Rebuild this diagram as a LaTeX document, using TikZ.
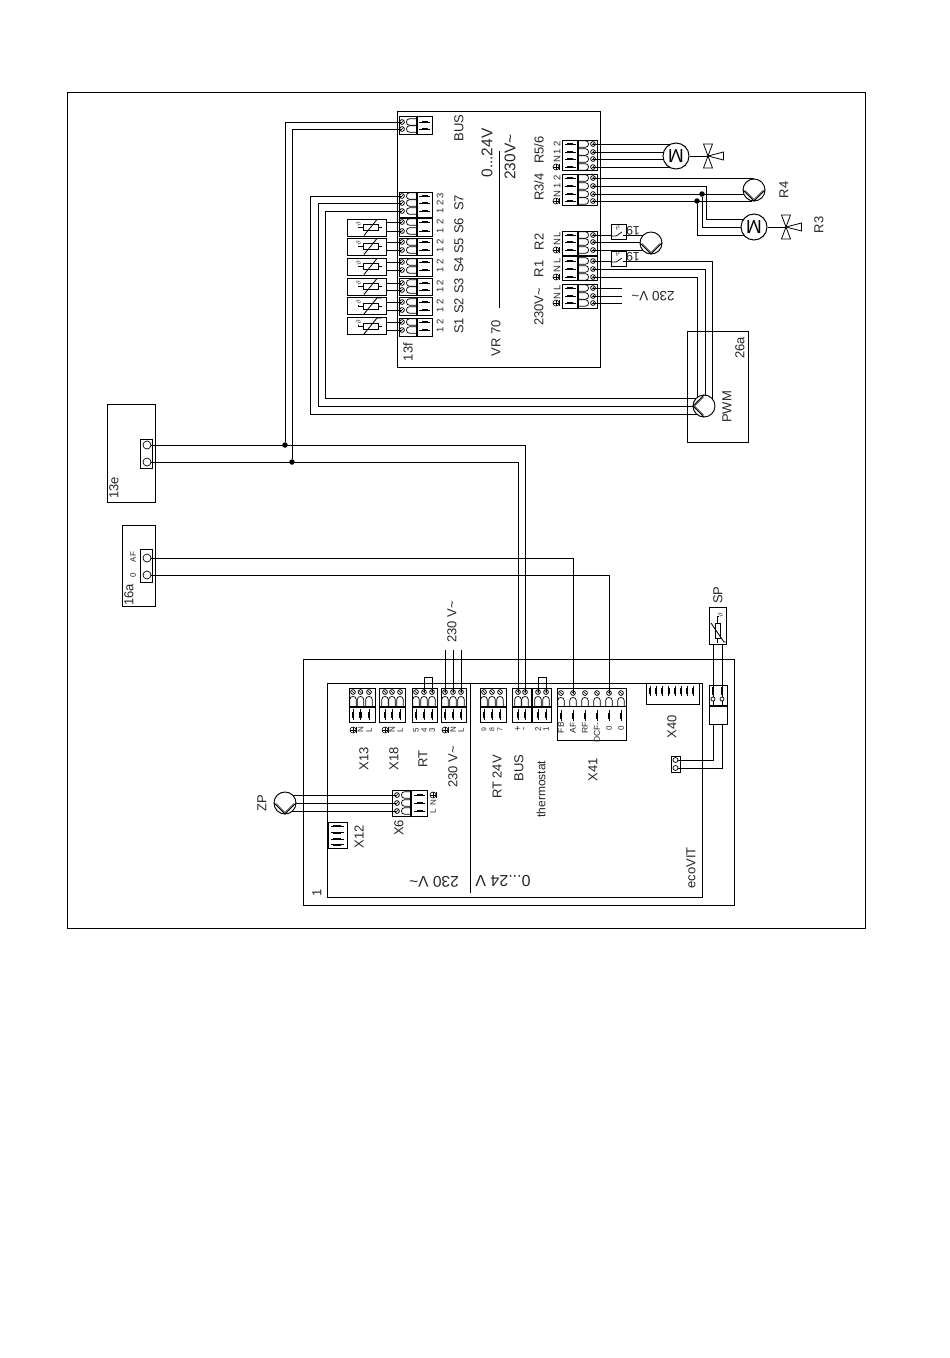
\documentclass[tikz,border=0pt]{standalone}
\usepackage{fontspec}
\setmainfont{Liberation Sans}
\definecolor{tc}{gray}{0.15}
\tikzset{
  wire/.style={line width=0.8pt,black},
  box/.style={draw=black,line width=0.95pt},
  lb/.style={rotate=90,inner sep=0,text=tc},
  lbf/.style={rotate=180,inner sep=0,text=tc},
  f16/.style={lb,font=\fontsize{15.5}{15.5}\selectfont},
  f13/.style={lb,font=\fontsize{13}{13}\selectfont},
  f12/.style={lb,font=\fontsize{12}{12}\selectfont},
  f9/.style={lb,font=\fontsize{9.5}{9.5}\selectfont},
  f8/.style={lb,font=\fontsize{8}{8}\selectfont},
  f7/.style={lb,font=\fontsize{7}{7}\selectfont},
  dotj/.style={circle,fill=black,inner sep=0,minimum size=5.5pt},
  motor/.style={circle,draw=black,line width=1pt,fill=white,inner sep=0,minimum size=26pt,rotate=180,font=\fontsize{19}{19}\selectfont},
  pumpc/.style={circle,draw=black,line width=0.95pt,fill=white,inner sep=0,minimum size=22pt},
  scr/.style={circle,draw=black,line width=0.7pt,inner sep=0,minimum size=8pt},
}
\newcount\lc
\newcommand\lab[4]{\global\advance\lc by 1 \node[#1] (t\the\lc) at (#2,#3) {#4};}
\newcommand\tunit[4]{%
  \coordinate (#1) at (#2,#3);
  \begin{scope}[shift={(#2,#3)},rotate=#4]
    \draw[line width=0.75pt] (0,0) circle (2.4pt);
    \draw[line width=0.6pt] (-1.5,1.5) -- (1.5,-1.5);
    \draw[line width=0.7pt] (14,-3.3) -- (7.5,-3.3) .. controls (3.5,-3.3) and (3.5,3.3) .. (7.5,3.3) -- (14,3.3);
    \draw[line width=0.5pt] (17,0) -- (28,0);
    \draw[line width=2.4pt] (20,0) -- (26,0);
  \end{scope}}
\newcommand\hblock[2]{%
  \draw[box] (399,#1) rectangle (416,#2);
  \draw[box] (417,#1) rectangle (432,#2);}
\newcommand\rblock[2]{%
  \draw[box] (578,#1) rectangle (597,#2);
  \draw[box] (562,#1) rectangle (577,#2);}
\newcommand\bblock[2]{%
  \draw[box] (#1,688) rectangle (#2,706);
  \draw[box] (#1,707) rectangle (#2,722);}
\newcommand\sensor[2]{%
  \node[box,rectangle,minimum width=39pt,minimum height=17pt,inner sep=0] (#1) at (366.5,#2) {};
  \begin{scope}[shift={(366.5,#2)}]
    \draw[line width=0.7pt] (-3.5,-3) rectangle (11.5,3);
    \draw[line width=0.6pt] (-3.5,0) -- (-8,0) -- (-8,-1);
    \draw[line width=0.6pt] (11.5,0) -- (15,0);
    \draw[line width=0.85pt] (-2.5,8) -- (10.5,-8) -- (15,-8);
  \end{scope}
  \lab{lb,font=\fontsize{7}{7}\selectfont}{358.5}{#2-3.5}{$\vartheta$}}
\newcommand\pump[4]{%
  \node[pumpc] (#1) at (#2,#3) {};
  \begin{scope}[shift={(#2,#3)},rotate=#4]
    \draw[line width=0.8pt] (-11,0) -- (0,11) -- (11,0);
    \draw[line width=0.55pt] (-9,0.5) -- (0,9.5) -- (9,0.5);
  \end{scope}}
\newcommand\valve[3]{%
  \coordinate (#1) at (#2,#3);
  \begin{scope}[shift={(#2,#3)}]
    \draw[line width=0.8pt] (-4.5,-12) -- (4.5,-12) -- (-4.5,12) -- (4.5,12) -- cycle;
    \draw[line width=0.8pt] (0,0) -- (15.5,-4) -- (15.5,4) -- cycle;
  \end{scope}}
\newcommand\gnd[2]{%
  \draw[line width=0.6pt] (#1,#2) circle (3pt);
  \draw[line width=0.6pt] (#1-3,#2) -- (#1+3,#2);
  \draw[line width=0.6pt] (#1,#2-3) -- (#1,#2+3);
  \draw[line width=0.8pt] (#1+3,#2-3) -- (#1+3,#2+3);}
\begin{document}
\begin{tikzpicture}[x=1pt,y=-1pt]
\useasboundingbox (0,0) rectangle (950,1358);
\fill[white] (0,0) rectangle (950,1358);
% frames
\draw[box] (67,92) rectangle (865,928);
\draw[box] (397,111) rectangle (600,367);
\draw[box] (687,331) rectangle (748,442);
\draw[box] (107,404) rectangle (155,502);
\draw[box] (122,525) rectangle (155,606);
\draw[box] (303,659) rectangle (734,905);
\draw[box] (327,683) rectangle (702,897);
\draw[box] (470,683) -- (470,893);
\draw[box] (499,151) -- (499,308);
% VR70 left terminals
\hblock{116}{134}
\hblock{192}{217}
\hblock{218}{236}
\hblock{238}{255}
\hblock{258}{276}
\hblock{278}{295}
\hblock{297}{315}
\hblock{318}{336}
\tunit{vba}{402}{122}{0}\tunit{vbb}{402}{129}{0}
\tunit{sgA}{402}{196}{0}\tunit{sgB}{402}{203}{0}\tunit{sgC}{402}{211}{0}
\tunit{sfA}{402}{222}{0}\tunit{sfB}{402}{231}{0}
\tunit{seA}{402}{242}{0}\tunit{seB}{402}{250}{0}
\tunit{sdA}{402}{262}{0}\tunit{sdB}{402}{270}{0}
\tunit{scA}{402}{283}{0}\tunit{scB}{402}{290}{0}
\tunit{sbA}{402}{302}{0}\tunit{sbB}{402}{310}{0}
\tunit{saA}{402}{322}{0}\tunit{saB}{402}{330}{0}
% VR70 right terminals
\rblock{140}{170}
\rblock{174}{205}
\rblock{231}{255}
\rblock{256}{280}
\rblock{284}{308}
\tunit{rfa}{593}{144}{180}\tunit{rfb}{593}{152}{180}\tunit{rfc}{593}{159}{180}\tunit{rfd}{593}{167}{180}
\tunit{rta}{593}{178}{180}\tunit{rtb}{593}{186}{180}\tunit{rtc}{593}{194}{180}\tunit{rtd}{593}{201}{180}
\tunit{rba}{593}{235}{180}\tunit{rbb}{593}{242}{180}\tunit{rbc}{593}{250}{180}
\tunit{raa}{593}{261}{180}\tunit{rab}{593}{269}{180}\tunit{rac}{593}{277}{180}
\tunit{rma}{593}{288}{180}\tunit{rmb}{593}{296}{180}\tunit{rmc}{593}{303}{180}
% ecoVIT bottom terminals
\bblock{349}{375}\bblock{379}{405}\bblock{412}{437}\bblock{441}{466}
\bblock{480}{506}\bblock{512}{531}\bblock{532}{551}
\tunit{xma}{353}{692}{-90}\tunit{xmb}{360.5}{692}{-90}\tunit{xmc}{369}{692}{-90}
\tunit{xna}{385}{692}{-90}\tunit{xnb}{392}{692}{-90}\tunit{xnc}{400}{692}{-90}
\tunit{rte}{416}{692}{-90}\tunit{rtf}{424}{692}{-90}\tunit{rtg}{432}{692}{-90}
\tunit{nea}{445}{692}{-90}\tunit{neb}{453}{692}{-90}\tunit{nec}{461}{692}{-90}
\tunit{lva}{484}{692}{-90}\tunit{lvb}{492}{692}{-90}\tunit{lvc}{500}{692}{-90}
\tunit{bua}{518}{692}{-90}\tunit{bub}{525}{692}{-90}
\tunit{tha}{538}{692}{-90}\tunit{thb}{546}{692}{-90}
% X41
\draw[box] (557,688) rectangle (626,740);
\draw[box] (557,706) -- (626,706);
\tunit{xfa}{561}{693}{-90}\tunit{xfb}{573}{693}{-90}\tunit{xfc}{585}{693}{-90}
\tunit{xfd}{597}{693}{-90}\tunit{xfe}{609}{693}{-90}\tunit{xff}{621}{693}{-90}
% X40
\draw[box] (646,683) rectangle (699,704);
\foreach \x in {650,656.2,662.4,668.6,674.8,681,687.2,693.4}{
  \draw[line width=0.5pt] (\x,686) -- (\x,696);
  \draw[line width=2pt] (\x,688) -- (\x,694);}
% X12
\draw[box] (328,822) rectangle (347,848);
\foreach \y in {826,832.5,839,844.5}{
  \draw[line width=0.5pt] (331,\y) -- (344,\y);
  \draw[line width=2pt] (333,\y) -- (341,\y);}
% X6
\draw[box] (392,790) rectangle (410,816);
\draw[box] (411,790) rectangle (427,816);
\tunit{xsa}{397}{795}{0}\tunit{xsb}{397}{803}{0}\tunit{xsc}{397}{811}{0}
% jumpers
\draw[line width=0.8pt] (rtf) -- ++(0,-15) -| (rtg);
\draw[line width=0.8pt] (tha) -- ++(0,-15) -| (thb);
% external terminals
\draw[box] (140,439) rectangle (152,468);
\node[scr] (ea) at (147,445) {};
\node[scr] (eb) at (147,462) {};
\draw[box] (140,549) rectangle (152,582);
\node[scr] (fa) at (147,558) {};
\node[scr] (fb) at (147,575) {};
% junctions
\node[dotj] (ja) at (285,445) {};
\node[dotj] (jb) at (292,462) {};
\node[dotj] (jc) at (702,194) {};
\node[dotj] (jd) at (697,201) {};
% named corners
\coordinate (cga) at (310,414);
\coordinate (cgb) at (318,406);
\coordinate (cgc) at (325,398);
\coordinate (pga) at (712,400);
\coordinate (pgb) at (705,400);
\coordinate (pgc) at (697,400);
\coordinate (cma) at (706,219);
\coordinate (cmd) at (754,235);
\coordinate (tna) at (445,650);
\coordinate (tnb) at (453,650);
\coordinate (tnc) at (461,650);
\coordinate (ema) at (622,288);
\coordinate (emb) at (622,296);
\coordinate (emc) at (622,303);
% wires
\draw[wire] (vba) -| (ja);
\draw[wire] (vbb) -| (jb);
\draw[wire] (ea.east) -| (bub);
\draw[wire] (eb.east) -| (bua);
\draw[wire] (fa.east) -| (xfb);
\draw[wire] (fb.east) -| (xfe);
\draw[wire] (sgA) -| (cga) -- (704,414);
\draw[wire] (sgB) -| (cgb) -- (704,406);
\draw[wire] (sgC) -| (cgc) -- (704,398);
\draw[wire] (rac) -| (pgc);
\draw[wire] (rab) -| (pgb);
\draw[wire] (rma) -- (ema);
\draw[wire] (rmb) -- (emb);
\draw[wire] (rmc) -- (emc);
\draw[wire] (rfa) -- (676,144);
\draw[wire] (rfb) -- (676,152);
\draw[wire] (rfc) -- (676,159);
\draw[wire] (rfd) -- (676,167);
\draw[wire] (rta) -- (754,178);
\draw[wire] (rtb) -| (cma) -- (754,219);
\draw[wire] (rtc) -- (754,194);
\draw[wire] (rtd) -- (752,201);
\draw[wire] (jc) |- (754,227);
\draw[wire] (jd) |- (cmd);
\draw[wire] (tna) -- (nea);
\draw[wire] (tnb) -- (neb);
\draw[wire] (tnc) -- (nec);
\draw[wire] (xsa) -- (285,795);
\draw[wire] (xsb) -- (285,803);
\draw[wire] (xsc) -- (285,811);
% switches
\node[box,rectangle,minimum size=15pt,inner sep=0] (swa) at (618.5,231.5) {};
\node[box,rectangle,minimum size=15pt,inner sep=0] (swb) at (618.5,258.5) {};
\draw[wire] (rba) -- (swa.west |- rba);
\draw[wire] (swa.east |- rba) -- (651,235);
\draw[wire] (rbb) -- (651,242);
\draw[wire] (rbc) -- (651,250);
\draw[wire] (raa) -- (swb.west |- raa);
\draw[wire] (swb.east |- raa) -| (pga);
\draw[line width=0.7pt] (611,236) -- (616,236) -- (622,232);
\draw[line width=0.7pt] (623,235) -- (626,235);
\draw[line width=0.7pt] (611,262) -- (616,262) -- (622,258);
\draw[line width=0.7pt] (623,261) -- (626,261);
\lab{lbf,font=\fontsize{7}{7}\selectfont}{618}{228}{$\vartheta$}
\lab{lbf,font=\fontsize{7}{7}\selectfont}{618}{254}{$\vartheta$}
% sensors
\sensor{sna}{326}
\sensor{snb}{306}
\sensor{snc}{286.5}
\sensor{snd}{266.5}
\sensor{sne}{246.5}
\sensor{snf}{227.5}
\draw[wire] (sna.east |- saA) -- (saA);
\draw[wire] (sna.east |- saB) -- (saB);
\draw[wire] (snb.east |- sbA) -- (sbA);
\draw[wire] (snb.east |- sbB) -- (sbB);
\draw[wire] (snc.east |- scA) -- (scA);
\draw[wire] (snc.east |- scB) -- (scB);
\draw[wire] (snd.east |- sdA) -- (sdA);
\draw[wire] (snd.east |- sdB) -- (sdB);
\draw[wire] (sne.east |- seA) -- (seA);
\draw[wire] (sne.east |- seB) -- (seB);
\draw[wire] (snf.east |- sfA) -- (sfA);
\draw[wire] (snf.east |- sfB) -- (sfB);
% motors, pumps, valves
\node[motor] (ma) at (676,156) {M};
\node[motor] (mb) at (754,227) {M};
\valve{va}{708}{156}
\valve{vb}{786}{227}
\draw[wire] (ma.west) -- (va);
\draw[wire] (mb.west) -- (vb);
\pump{pr}{754}{190}{0}
\pump{pb}{651}{243}{0}
\pump{pw}{704}{406}{-90}
\pump{pz}{285}{803}{0}
% SP sensor
\node[box,rectangle,minimum width=17pt,minimum height=37pt,inner sep=0] (sps) at (717.5,625.5) {};
\draw[line width=0.7pt] (715,623) rectangle (720.5,638);
\draw[line width=0.6pt] (717.5,638) -- (717.5,643);
\draw[line width=0.6pt] (717.5,623) -- (717.5,616) -- (719,616);
\draw[line width=0.85pt] (711,623) -- (724,642) -- (726,642);
\lab{lb,font=\fontsize{7}{7}\selectfont}{720.5}{615}{$\vartheta$}
% SP connector
\draw[box] (709,685) rectangle (727,705);
\draw[box] (709,706) rectangle (727,724);
\draw[box] (671,756) rectangle (680,772);
\node[scr,minimum size=5pt] (ta) at (675.5,760) {};
\node[scr,minimum size=5pt] (tb) at (675.5,768) {};
\coordinate (ua) at (713,644);
\coordinate (ub) at (722,644);
\coordinate (uc) at (713,697);
\coordinate (ud) at (722,697);
\coordinate (ue) at (713,724);
\coordinate (uf) at (722,724);
\draw[wire] (ua) -- (uc);
\draw[wire] (ub) -- (ud);
\draw[line width=2.4pt] (713,687) -- (713,695);
\draw[line width=2.4pt] (722,687) -- (722,695);
\draw[line width=0.7pt] (713,699) circle (2pt);
\draw[line width=0.7pt] (722,699) circle (2pt);
\draw[wire] (713,701) -- (713,705);
\draw[wire] (722,701) -- (722,705);
\draw[wire] (ue) |- (ta.east);
\draw[wire] (uf) |- (tb.east);
% labels VR70
\lab{f13}{459}{128}{BUS}
\lab{f16}{487}{153}{0...24V}
\lab{f16}{510}{157}{230V\char`\~}
\lab{f13}{496}{338}{VR 70}
\lab{f13}{408}{352}{13f}
\lab{f13}{459}{203}{S7}
\lab{f13}{459}{226}{S6}
\lab{f13}{459}{246}{S5}
\lab{f13}{459}{265}{S4}
\lab{f13}{459}{286}{S3}
\lab{f13}{459}{306}{S2}
\lab{f13}{459}{326}{S1}
\lab{f13}{539}{150}{R5/6}
\lab{f13}{539}{187}{R3/4}
\lab{f13}{539}{242}{R2}
\lab{f13}{539}{269}{R1}
\lab{f13}{539}{307}{230V\char`\~}
\foreach \y/\t in {196/3,203/2,211/1,222/2,231/1,242/2,250/1,262/2,270/1,283/2,290/1,302/2,310/1,322/2,330/1}{
  \lab{f9}{440}{\y}{\t}}
\foreach \y/\t in {144/2,152/1,159/N,178/2,186/1,194/N,235/L,242/N,261/L,269/N,288/L,296/N}{
  \lab{f9}{557}{\y}{\t}}
\foreach \y in {167,201,250,277,303}{\gnd{556}{\y}}
\lab{lbf,font=\fontsize{12.5}{12.5}\selectfont}{633}{231}{19}
\lab{lbf,font=\fontsize{12.5}{12.5}\selectfont}{633}{257}{19}
\lab{lbf,font=\fontsize{13.5}{13.5}\selectfont}{653}{296}{230 V\char`\~}
\lab{f13}{784}{190}{R4}
\lab{f13}{819}{225}{R3}
\lab{f13}{727}{407}{PWM}
\lab{f13}{740}{348}{26a}
% external labels
\lab{f13}{114}{488}{13e}
\lab{f13}{129}{595}{16a}
\lab{f8}{133}{557}{AF}
\lab{f8}{133}{575}{0}
\lab{f13}{262}{803}{ZP}
\lab{f13}{452}{622}{230 V\char`\~}
\lab{f13}{718}{595}{SP}
% labels ecoVIT
\lab{f13}{317}{893}{1}
\lab{f13}{691}{868}{ecoVIT}
\lab{lbf,font=\fontsize{15.5}{15.5}\selectfont}{434}{882}{230 V\char`\~}
\lab{lbf,font=\fontsize{16}{16}\selectfont}{503}{881}{0...24 V}
\lab{f13}{364}{759}{X13}
\lab{f13}{394}{759}{X18}
\lab{f13}{423}{759}{RT}
\lab{f13}{453}{767}{230 V\char`\~}
\lab{f13}{497}{777}{RT 24V}
\lab{f13}{519}{768}{BUS}
\lab{f12}{541}{789}{thermostat}
\lab{f13}{593}{770}{X41}
\lab{f13}{672}{727}{X40}
\lab{f13}{359}{837}{X12}
\lab{f13}{399}{828}{X6}
\foreach \x/\t in {360.5/N,369/L,392/N,400/L,424/4,416/5,432/3,453/N,461/L}{
  \lab{f8}{\x}{730}{\t}}
\foreach \x/\t in {484/9,492/8,500/7}{\lab{f7}{\x}{730}{\t}}
\lab{f9}{518}{729}{+}
\lab{f9}{525}{729}{-}
\lab{f8}{538}{729}{2}
\lab{f8}{546}{729}{1}
\foreach \x in {353,385,445}{\gnd{\x}{730}}
\lab{f8}{433}{811}{L}
\lab{f8}{433}{803}{N}
\gnd{433}{795}
\lab{lb,font=\fontsize{8.5}{8.5}\selectfont,anchor=east}{561}{722}{FB}
\lab{lb,font=\fontsize{8.5}{8.5}\selectfont,anchor=east}{573}{722}{AF}
\lab{lb,font=\fontsize{8.5}{8.5}\selectfont,anchor=east}{585}{722}{RF}
\lab{lb,font=\fontsize{8.5}{8.5}\selectfont,anchor=east}{597}{722}{DCF-}
\lab{f8}{609}{728}{0}
\lab{f8}{621}{728}{0}
\end{tikzpicture}
\end{document}
